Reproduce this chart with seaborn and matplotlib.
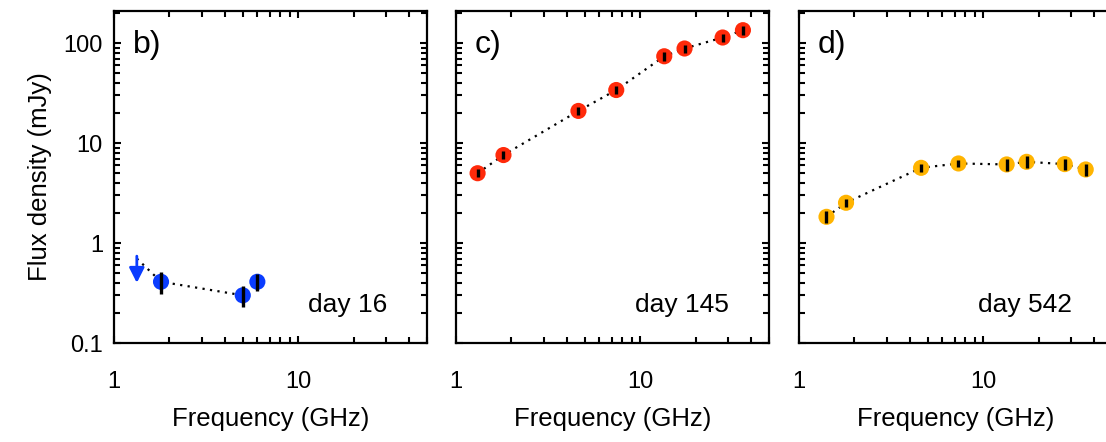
import matplotlib
matplotlib.use("Agg")
import matplotlib.pyplot as plt
import numpy as np
import pandas as pd
import seaborn as sns
from matplotlib.ticker import LogLocator, FixedLocator, FixedFormatter, NullFormatter

# --- data --------------------------------------------------------------------
# panel b) day 16
b_freq = [1.8, 5.0, 6.0]
b_flux = [0.41, 0.30, 0.41]
b_err = [0.10, 0.07, 0.08]
b_limit_freq = 1.33
b_limit_flux = 0.70

# panel c) day 145
c_freq = [1.31, 1.81, 4.62, 7.41, 13.5, 17.4, 28.0, 36.1]
c_flux = [5.0, 7.6, 21.0, 34.0, 74.0, 88.5, 114.0, 135.0]
c_err = [0.45, 0.7, 1.8, 3.0, 7.0, 8.0, 11.0, 14.0]

# panel d) day 542
d_freq = [1.41, 1.80, 4.60, 7.34, 13.4, 17.2, 27.7, 36.0]
d_flux = [1.83, 2.53, 5.66, 6.26, 6.12, 6.50, 6.17, 5.45]
d_err = [0.24, 0.22, 0.5, 0.5, 0.8, 0.85, 0.75, 0.75]

panel_tags = ["b)", "c)", "d)"]
day_labels = ["day 16", "day 145", "day 542"]
colors = ["#0a3cff", "#ff2a0a", "#ffb400"]

sns.set_theme(style="ticks")
plt.rcParams["font.family"] = ["Liberation Sans", "DejaVu Sans"]
plt.rcParams.update({
    "text.color": "black",
    "axes.labelcolor": "black",
    "xtick.color": "black",
    "ytick.color": "black",
    "axes.edgecolor": "black",
})

W, H = 1106, 442
fig = plt.figure(figsize=(W / 100, H / 100), dpi=100)

lefts = [114, 456, 799]
ax_w, ax_top, ax_bot = 313, 11, 343

series = [
    (b_freq, b_flux, b_err),
    (c_freq, c_flux, c_err),
    (d_freq, d_flux, d_err),
]

for i, (freq, flux, err) in enumerate(series):
    ax = fig.add_axes([lefts[i] / W, (H - ax_bot) / H, ax_w / W, (ax_bot - ax_top) / H])
    ax.set_xscale("log")
    ax.set_yscale("log")
    ax.set_xlim(1, 50)
    ax.set_ylim(0.1, 210)

    df = pd.DataFrame({"freq": freq, "flux": flux})
    line_x = list(freq)
    line_y = list(flux)
    if i == 0:
        line_x = [b_limit_freq] + line_x
        line_y = [b_limit_flux] + line_y
    ax.plot(line_x, line_y, color="black", lw=1.6, dashes=(1.0, 2.4), zorder=2)

    sns.scatterplot(data=df, x="freq", y="flux", ax=ax, color=colors[i],
                    s=135, edgecolor="none", zorder=3, legend=False)
    ax.errorbar(freq, flux, yerr=err, fmt="none", ecolor="black",
                elinewidth=2.4, capsize=0, zorder=4)

    if i == 0:
        ax.annotate("", xy=(b_limit_freq, 0.40), xytext=(b_limit_freq, 0.74),
                    arrowprops=dict(arrowstyle="-|>,head_width=0.38,head_length=0.75",
                                    color=colors[0], lw=2.0, shrinkA=0, shrinkB=0),
                    zorder=3)

    for s in ax.spines.values():
        s.set_linewidth(1.6)
        s.set_color("black")
        s.set_visible(True)

    ax.tick_params(which="both", direction="in", top=True, right=(i < 2),
                   width=1.5, color="black")
    ax.tick_params(which="major", length=5)
    ax.tick_params(which="minor", length=4.5)
    ax.tick_params(axis="x", which="major", pad=20, labelsize=17)
    ax.tick_params(axis="y", which="major", pad=8, labelsize=17)

    ax.xaxis.set_major_locator(FixedLocator([1, 10]))
    ax.xaxis.set_major_formatter(FixedFormatter(["1", "10"]))
    ax.xaxis.set_minor_locator(LogLocator(base=10, subs=np.arange(2, 10)))
    ax.xaxis.set_minor_formatter(NullFormatter())
    ax.yaxis.set_major_locator(FixedLocator([0.1, 1, 10, 100]))
    ax.yaxis.set_minor_locator(LogLocator(base=10, subs=np.arange(2, 10)))
    ax.yaxis.set_minor_formatter(NullFormatter())
    if i == 0:
        ax.yaxis.set_major_formatter(FixedFormatter(["0.1", "1", "10", "100"]))
        ax.set_ylabel("Flux density (mJy)", fontsize=18.5, labelpad=8)
    else:
        ax.set_yticklabels([])
        ax.set_ylabel("")

    ax.set_xlabel("Frequency (GHz)", fontsize=18.5, labelpad=10)
    ax.grid(False)

    ax.text(19 / ax_w, 1 - (45 - ax_top) / (ax_bot - ax_top), panel_tags[i],
            transform=ax.transAxes, fontsize=23, ha="left", va="center")
    ax.text(1 - 40 / ax_w, (ax_bot - 305) / (ax_bot - ax_top), day_labels[i],
            transform=ax.transAxes, fontsize=19, ha="right", va="center")

fig.savefig("out.png", dpi=100)
